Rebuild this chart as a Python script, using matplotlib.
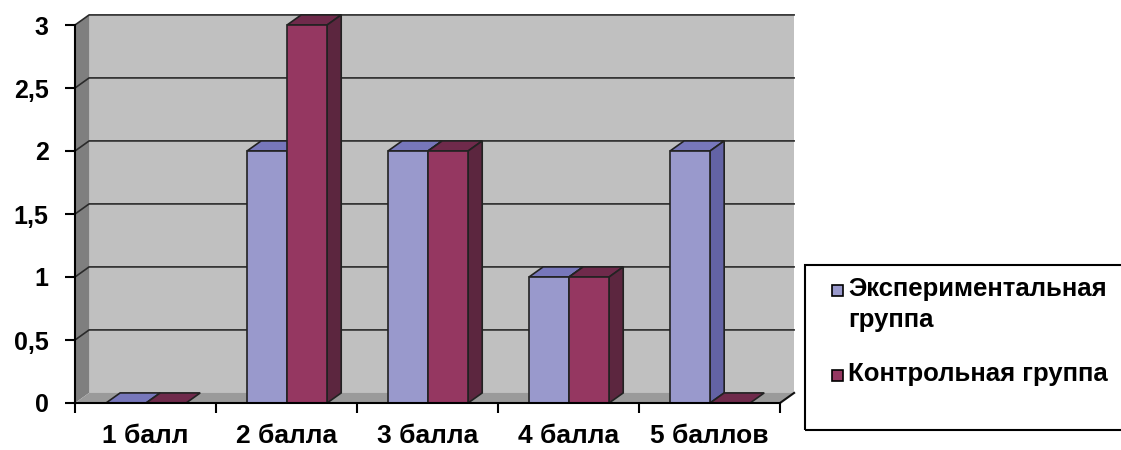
import matplotlib.pyplot as plt
from matplotlib.patches import Polygon, Rectangle
import numpy as np

plt.rcParams['font.family'] = ['Liberation Sans', 'DejaVu Sans']
plt.rcParams['font.weight'] = 'bold'

# data
categories = ["1 балл", "2 балла", "3 балла", "4 балла", "5 баллов"]
series_names = ["Экспериментальная\nгруппа", "Контрольная группа"]
exp_group = [0, 2, 2, 1, 2]
ctrl_group = [0, 3, 2, 1, 0]
y_ticks = [0, 0.5, 1, 1.5, 2, 2.5, 3]
y_tick_labels = ["0", "0,5", "1", "1,5", "2", "2,5", "3"]

# front / top / side colours for each series
colors = [("#9999cc", "#7777bb", "#6363a5"),
          ("#953761", "#6f2a4b", "#5c263f")]

dx, dy = 0.1, 0.08      # fake 3D depth
bar_w, bar_off = 0.284, 0.22
ymax = y_ticks[-1]
n = len(categories)

fig = plt.figure(figsize=(11.21, 4.5), dpi=100)
ax = fig.add_axes([75 / 1121, 47 / 450, 725 / 1121, 393 / 450])
ax.set_xlim(0, 725 / 141)
ax.set_ylim(0, 393 / 126)
ax.patch.set_visible(False)

# walls and floor
ax.add_patch(Rectangle((dx, dy), n, ymax, fc="#c0c0c0", ec="none", zorder=0))
ax.add_patch(Polygon([(0, 0), (dx, dy), (dx, ymax + dy), (0, ymax)],
                     fc="#7f7f7f", ec="none", zorder=0))
ax.add_patch(Polygon([(0, 0), (n, 0), (n + dx, dy), (dx, dy)],
                     fc="#9a9a9a", ec="none", zorder=0))
for t in y_ticks[1:]:
    ax.plot([0, dx, n + dx], [t + 0, t + dy, t + dy], color="#2a2a2a", lw=1.2, zorder=1)
ax.plot([n, n + dx], [0, dy], color="#111111", lw=1.5, zorder=1, clip_on=False)

# bars
for i in range(n):
    for j, vals in enumerate([exp_group, ctrl_group]):
        v = vals[i]
        x0 = i + bar_off + j * bar_w
        front, top, side = colors[j]
        z = 2 + 2 * j
        ax.add_patch(Polygon([(x0, v), (x0 + bar_w, v), (x0 + bar_w + dx, v + dy), (x0 + dx, v + dy)],
                             fc=top, ec="#222222", lw=1.2, zorder=z))
        if v > 0:
            ax.add_patch(Polygon([(x0 + bar_w, 0), (x0 + bar_w + dx, dy),
                                  (x0 + bar_w + dx, v + dy), (x0 + bar_w, v)],
                                 fc=side, ec="#222222", lw=1.2, zorder=z))
            ax.bar(x0, v, width=bar_w, align='edge', color=front,
                   edgecolor="#222222", lw=1.2, zorder=z + 1)

# axes
for s in ['top', 'right']:
    ax.spines[s].set_visible(False)
ax.spines['left'].set_bounds(0, ymax)
ax.spines['bottom'].set_bounds(0, n)
for s in ['left', 'bottom']:
    ax.spines[s].set_linewidth(1.5)
    ax.spines[s].set_zorder(10)
ax.set_yticks(y_ticks, y_tick_labels)
ax.tick_params(axis='y', length=7, width=1.5, pad=12, labelsize=18)
ax.set_xticks(np.arange(n + 1))
ax.set_xticklabels([])
ax.set_xticks(np.arange(n) + 0.5, categories, minor=True)
ax.tick_params(axis='x', which='major', length=7, width=1.5)
ax.tick_params(axis='x', which='minor', length=0, pad=15, labelsize=19)

# legend box (runs off the right edge like the original)
fig.add_artist(Rectangle((805 / 1121, 20 / 450), 330 / 1121, 165 / 450,
                         transform=fig.transFigure, fill=False, ec="black", lw=1.5))
for j, (name, yc) in enumerate(zip(series_names, [290, 375])):
    fig.add_artist(Rectangle((832 / 1121, 1 - (yc + 6) / 450), 11 / 1121, 11 / 450,
                             transform=fig.transFigure, fc=colors[j][0], ec="black", lw=1.2))
    fig.text(848 / 1121, 1 - (yc - 13) / 450, name, va='top', ha='left',
             fontsize=18.5, linespacing=1.35)

fig.savefig("out.png", dpi=100)
